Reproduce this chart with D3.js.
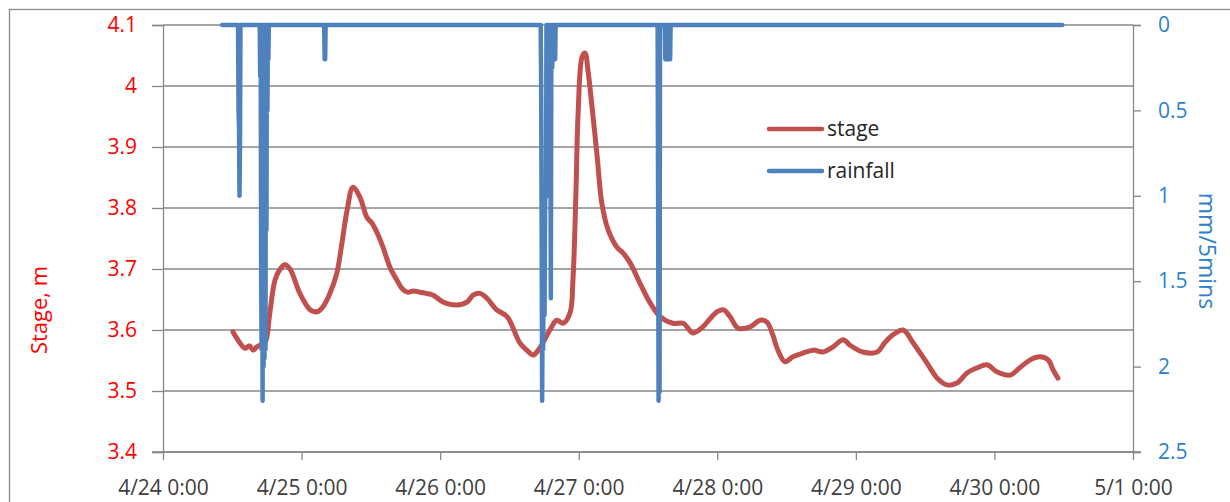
<!DOCTYPE html>
<html>
<head>
<meta charset="utf-8">
<script src="https://cdn.jsdelivr.net/npm/d3@7"></script>
<style>
  body { margin: 0; background: #fff; }
  svg { display: block; font-family: "Open Sans", sans-serif; }
</style>
</head>
<body>
<div class="chartHolder"></div>
<script>
// stage readings: hours after 4/24 0:00 and stage in m
var stageHours = [12.1, 13.3, 14.2, 15.0, 15.6, 16.2, 16.8, 17.7, 18.5, 19.4, 20.3, 21.1, 22.0, 23.7, 25.5, 26.7, 27.7, 28.9, 30.1, 31.0, 31.9, 32.9,
  34.1, 35.3, 36.2, 37.1, 38.1, 39.3, 40.5, 41.4, 42.3, 43.4, 44.5, 45.6, 46.8, 48.5, 50.9, 52.7, 53.7, 54.9, 56.1, 57.8, 59.6, 61.8, 63.0, 64.1, 65.0,
  65.8, 67.0, 68.2, 69.3, 70.5, 71.0, 71.5, 71.9, 72.6, 73.1, 73.6, 74.3, 75.2, 76.0, 77.1, 78.6, 79.7, 80.9, 82.6, 84.4, 86.1,
  88.3, 90.1, 91.8, 93.5, 94.7, 96.0, 97.1, 98.2, 99.6, 101.7, 103.4, 104.6, 105.5, 106.5, 107.7, 109.1, 110.8, 112.6, 114.3,
  116.0, 117.8, 119.0, 121.2, 123.7, 125.0, 126.4, 128.2, 129.9, 132.3, 134.1, 135.8, 137.5, 139.3, 141.0, 142.7, 144.5, 146.7,
  148.5, 150.2, 151.9, 153.3, 154.2, 155.0];
var stageValues = [3.597, 3.579, 3.570, 3.574, 3.567, 3.572, 3.575, 3.580, 3.628, 3.682, 3.700, 3.707, 3.700, 3.660, 3.633, 3.630, 3.638, 3.660, 3.693,
  3.743, 3.797, 3.834, 3.818, 3.785, 3.775, 3.759, 3.736, 3.703, 3.682, 3.668, 3.662, 3.664, 3.662, 3.660, 3.657, 3.646, 3.641, 3.646, 3.657, 3.660, 3.652,
  3.633, 3.622, 3.579, 3.567, 3.559, 3.567, 3.579, 3.600, 3.616, 3.611, 3.628, 3.682, 3.818, 3.956, 4.048, 4.054, 4.026, 3.966,
  3.884, 3.808, 3.764, 3.736, 3.726, 3.710, 3.677, 3.644, 3.622, 3.611, 3.611, 3.595, 3.605, 3.618, 3.630, 3.633, 3.622, 3.603,
  3.605, 3.616, 3.613, 3.595, 3.567, 3.548, 3.556, 3.562, 3.567, 3.564, 3.572, 3.584, 3.575, 3.564, 3.564, 3.579, 3.592, 3.600,
  3.579, 3.546, 3.521, 3.510, 3.513, 3.530, 3.538, 3.543, 3.531, 3.526, 3.539, 3.551, 3.556, 3.551, 3.534, 3.521];

// rain gauge: 5 minute totals that were not zero (mm/5mins)
var rainTimes = ["4/24 13:05", "4/24 13:10", "4/24 13:15", "4/24 13:20",
  "4/24 16:50", "4/24 17:00", "4/24 17:05", "4/24 17:15", "4/24 17:25", "4/24 17:35", "4/24 17:45", "4/24 17:55", "4/24 18:05", "4/24 18:15",
  "4/25 4:00", "4/25 4:05",
  "4/26 17:30", "4/26 17:35", "4/26 17:40", "4/26 17:45", "4/26 17:50", "4/26 17:55", "4/26 18:00", "4/26 18:05", "4/26 18:10",
  "4/26 18:15", "4/26 18:20", "4/26 18:30", "4/26 18:40", "4/26 18:45", "4/26 18:55", "4/26 19:05", "4/26 19:10",
  "4/26 19:15", "4/26 19:25", "4/26 19:35", "4/26 19:45", "4/26 19:55",
  "4/27 13:45", "4/27 13:50", "4/27 14:00",
  "4/27 15:00", "4/27 15:05", "4/27 15:20", "4/27 15:35", "4/27 15:50"];
var rainValues = [0.5, 0.6, 1.0, 0.7,
  0.3, 1.5, 1.9, 2.2, 2.0, 1.95, 1.9, 1.2, 0.5, 0.2,
  0.2, 0.2,
  0.4, 1.2, 2.2, 1.6, 1.9, 1.4, 1.0, 1.7, 1.1,
  0.9, 1.0, 0.3, 1.0, 0.3, 0.25, 0.3, 1.6,
  0.3, 0.25, 0.2, 0.2, 0.2,
  1.0, 2.2, 2.15,
  0.2, 0.2, 0.2, 0.2, 0.2];
var rainFirst = "4/24 10:15", rainLast = "4/30 11:45";

var stageTicks = [3.4, 3.5, 3.6, 3.7, 3.8, 3.9, 4.0, 4.1];
var rainTicks = [0, 0.5, 1, 1.5, 2, 2.5];

var svgW = 1230, svgH = 502;

var parseT = d3.timeParse("%Y %m/%d %H:%M");
var t0 = new Date(2015, 3, 24);
var t1 = new Date(2015, 4, 1);
function p(s) { return parseT("2015 " + s); }

var svg = d3.select(".chartHolder").append("svg").attr("width", svgW).attr("height", svgH);

// chart frame
svg.append("rect").attr("x", 9.5).attr("y", 9.5).attr("width", 1240).attr("height", 520)
  .attr("fill", "none").attr("stroke", "#8c8c8c").attr("stroke-width", 1.3);

var xScale = d3.scaleTime().domain([t0, t1]).range([163, 1133]);
var yScale = d3.scaleLinear().domain([3.4, 4.1]).range([452, 25]);
var y2Scale = d3.scaleLinear().domain([0, 2.5]).range([25, 452]);

// gridlines
svg.append("g").selectAll("line").data(stageTicks).enter().append("line")
  .attr("x1", 163).attr("x2", 1133)
  .attr("y1", function (d) { return yScale(d); }).attr("y2", function (d) { return yScale(d); })
  .attr("stroke", "#878787").attr("stroke-width", 1.3);

var grey = "#878787";
function styleAxis(g, color) {
  g.select(".domain").attr("stroke", grey).attr("stroke-width", 1.3);
  g.selectAll(".tick line").attr("stroke", grey).attr("stroke-width", 1.3);
  g.selectAll("text").attr("fill", color).style("font-size", "21px").style("font-family", "'Open Sans', sans-serif");
}

var yAxis = d3.axisLeft(yScale).tickValues(stageTicks).tickSizeOuter(0).tickSize(11).tickPadding(15)
  .tickFormat(function (d) { return d3.format("")(+d.toFixed(1)); });
svg.append("g").attr("id", "y-axis").attr("transform", "translate(163,0)").call(yAxis).call(styleAxis, "#ff0000");

var y2Axis = d3.axisRight(y2Scale).tickValues(rainTicks).tickSizeOuter(0).tickSize(8).tickPadding(17)
  .tickFormat(function (d) { return d3.format("")(d); });
svg.append("g").attr("id", "y2-axis").attr("transform", "translate(1133,0)").call(y2Axis).call(styleAxis, "#2e80cc");

var xAxis = d3.axisBottom(xScale).ticks(d3.timeDay.every(1)).tickSizeOuter(0).tickSize(8).tickPadding(20)
  .tickFormat(d3.timeFormat("%-m/%-d %-H:%M"));
svg.append("g").attr("id", "x-axis").attr("transform", "translate(0,452)").call(xAxis).call(styleAxis, "#404040");
svg.select("#x-axis .domain").attr("d", "M152,0H1141");

// axis titles
svg.append("text").text("Stage, m").attr("transform", "translate(47,310) rotate(-90)")
  .attr("text-anchor", "middle").attr("fill", "#ff0000").style("font-size", "22px");
svg.append("text").text("mm/5mins").attr("transform", "translate(1199,251) rotate(90)")
  .attr("text-anchor", "middle").attr("fill", "#2e80cc").style("font-size", "23px");

// stage line
var stage = stageHours.map(function (hr, i) {
  return { t: new Date(t0.getTime() + hr * 3600e3), v: stageValues[i] };
});
var line = d3.line().curve(d3.curveCatmullRom.alpha(0.5))
  .x(function (d) { return xScale(d.t); }).y(function (d) { return yScale(d.v); });
svg.append("path").datum(stage).attr("d", line).attr("fill", "none")
  .attr("stroke", "#c0504d").attr("stroke-width", 5).attr("stroke-linejoin", "round").attr("stroke-linecap", "round");

// rainfall line, 5 minute record, zero when no reading above
var rainMap = {};
rainTimes.forEach(function (s, i) { rainMap[+p(s)] = rainValues[i]; });
var rain = d3.timeMinutes(p(rainFirst), d3.timeMinute.offset(p(rainLast), 1), 5).map(function (t) {
  return { t: t, v: rainMap[+t] || 0 };
});
var line2 = d3.line().x(function (d) { return xScale(d.t); }).y(function (d) { return y2Scale(d.v); });
svg.append("path").datum(rain).attr("d", line2).attr("fill", "none")
  .attr("stroke", "#4f81bd").attr("stroke-width", 4.5).attr("stroke-linejoin", "round").attr("stroke-linecap", "round");

// legend
var legend = svg.append("g").attr("id", "legend");
var legendItems = [{ name: "stage", color: "#c0504d" }, { name: "rainfall", color: "#4f81bd" }];
legendItems.forEach(function (d, i) {
  var yy = 129 + i * 42;
  legend.append("line").attr("x1", 769).attr("x2", 822).attr("y1", yy).attr("y2", yy)
    .attr("stroke", d.color).attr("stroke-width", 4.5).attr("stroke-linecap", "round");
  legend.append("text").text(d.name).attr("x", 827).attr("y", yy + 7)
    .attr("fill", "#262626").style("font-size", "21px");
});
</script>
</body>
</html>
